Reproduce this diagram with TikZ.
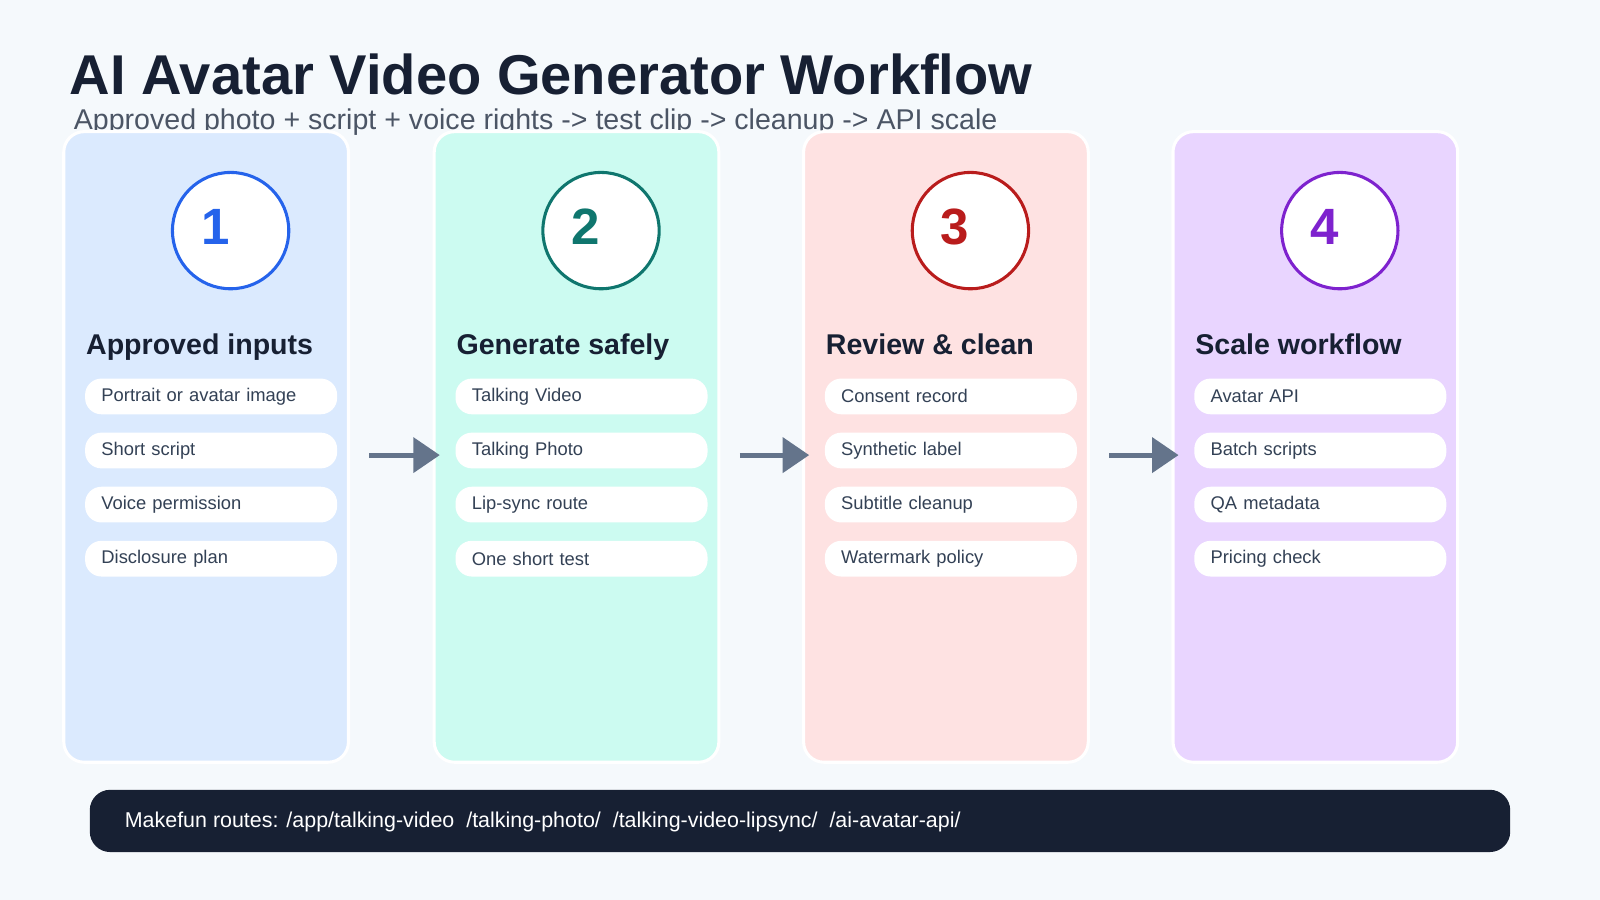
\documentclass[tikz,border=0pt]{standalone}
\usepackage{fontspec}
\setmainfont{Liberation Sans}
\usetikzlibrary{calc,positioning,arrows.meta}
\definecolor{bgpage}{HTML}{F5F9FC}
\definecolor{ink}{HTML}{172033}
\definecolor{subink}{HTML}{4B5565}
\definecolor{pillink}{HTML}{334155}
\definecolor{arrowgray}{HTML}{64748B}
\definecolor{cardA}{HTML}{DBEAFE}\definecolor{ringA}{HTML}{2563EB}
\definecolor{cardB}{HTML}{CCFBF1}\definecolor{ringB}{HTML}{0F766E}
\definecolor{cardC}{HTML}{FEE2E2}\definecolor{ringC}{HTML}{B91C1C}
\definecolor{cardD}{HTML}{E9D5FF}\definecolor{ringD}{HTML}{7E22CE}
\tikzset{
  card/.style={draw=white,line width=1.5pt,rounded corners=10pt,minimum width=139.5pt,minimum height=309pt,inner sep=0pt},
  ring/.style={circle,draw,line width=1.5pt,fill=white,minimum size=57pt,inner sep=0pt},
  pill/.style={fill=white,rounded corners=8pt,minimum width=115.5pt,minimum height=17.5pt,text width=107.5pt,inner xsep=8pt,inner ysep=0pt,font=\fontsize{9}{10}\selectfont,text=pillink,anchor=west},
  flow/.style={arrowgray,line width=2.5pt,-{Triangle[length=13pt,width=17pt]}}
}
\begin{document}
\begin{tikzpicture}[x=0.5pt,y=-0.5pt]
\fill[bgpage] (0,0) rectangle (1568,882);
\useasboundingbox (0,0) rectangle (1568,882);
% title
\node[anchor=base west,inner sep=0pt,text=ink,font=\fontsize{27.5}{30}\selectfont\bfseries] (title) at (68,93) {AI Avatar Video Generator Workflow};
\node[anchor=base west,inner sep=0pt,text=subink,font=\fontsize{14}{16}\selectfont] (subtitle) at (72,127) {Approved photo + script + voice rights -> test clip -> cleanup -> API scale};
% cards
\foreach \i/\cx/\cc/\head/\pa/\pb/\pc/\pd in {
  1/202/A/Approved inputs/Portrait or avatar image/Short script/Voice permission/Disclosure plan,
  2/565/B/Generate safely/Talking Video/Talking Photo/Lip-sync route/One short test,
  3/927/C/Review \& clean/Consent record/Synthetic label/Subtitle cleanup/Watermark policy,
  4/1289/D/Scale workflow/Avatar API/Batch scripts/QA metadata/Pricing check}{
  \node[card,fill=card\cc] (card\i) at (\cx,438) {};
  \node[ring,draw=ring\cc] (ring\i) at (\cx+24,226) {};
  \node[text=ring\cc,font=\fontsize{25}{25}\selectfont\bfseries] (num\i) at (\cx+9,222) {\i};
  \node[anchor=base west,inner sep=0pt,text=ink,font=\fontsize{14}{16}\selectfont\bfseries] (head\i) at (\cx-118,347) {\head};
  \node[pill] (p\i a) at (\cx-119,388.5) {\pa};
  \node[pill] (p\i b) at (\cx-119,441.5) {\pb};
  \node[pill] (p\i c) at (\cx-119,494.5) {\pc};
  \node[pill] (p\i d) at (\cx-119,547.5) {\pd};
}
% arrows between cards
\foreach \a/\b in {1/2,2/3,3/4}
  \draw[flow] ($(card\a.east)+(19,8)$) -- ($(card\b.west)+(7,8)$);
% footer
\node[fill=ink,rounded corners=10pt,minimum width=696pt,minimum height=30.5pt,inner sep=0pt] (footer) at (784,804.5) {};
\node[anchor=base west,inner sep=0pt,text=white,font=\fontsize{10.5}{12}\selectfont] (routes) at (122,811) {Makefun routes: /app/talking-video\ \ /talking-photo/\ \ /talking-video-lipsync/\ \ /ai-avatar-api/};
\end{tikzpicture}
\end{document}
